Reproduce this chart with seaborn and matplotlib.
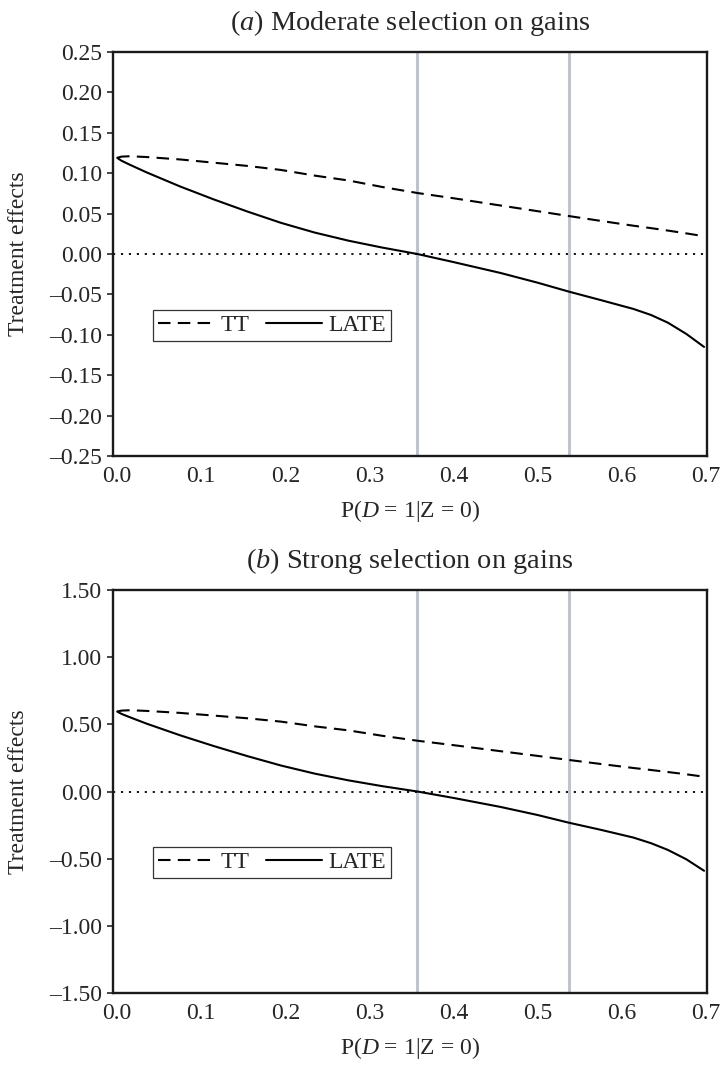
import numpy as np
import pandas as pd
import matplotlib
matplotlib.use("Agg")
import matplotlib.pyplot as plt
import seaborn as sns

# Dados
p_grid = [0.0, 0.005, 0.015, 0.035, 0.075, 0.115, 0.155, 0.195, 0.235, 0.275, 0.315,
          0.357, 0.40, 0.456, 0.50, 0.537, 0.575, 0.614, 0.635, 0.655, 0.677, 0.698]

tt_a = [0.119, 0.1205, 0.121, 0.120, 0.117, 0.113, 0.109, 0.104, 0.097, 0.091, 0.083,
        0.0755, 0.069, 0.060, 0.053, 0.047, 0.041, 0.035, 0.032, 0.029, 0.0255, 0.022]
late_a = [0.119, 0.1155, 0.1105, 0.101, 0.0835, 0.0675, 0.0525, 0.0385, 0.0265, 0.0165, 0.008,
          0.0, -0.010, -0.0235, -0.0355, -0.0465, -0.057, -0.068, -0.0755, -0.085, -0.099, -0.115]

tt_b = [0.595, 0.602, 0.605, 0.600, 0.585, 0.565, 0.545, 0.520, 0.485, 0.455, 0.415,
        0.378, 0.345, 0.300, 0.265, 0.235, 0.205, 0.175, 0.160, 0.145, 0.128, 0.110]
late_b = [0.595, 0.578, 0.553, 0.505, 0.418, 0.338, 0.263, 0.193, 0.133, 0.083, 0.040,
          0.0, -0.048, -0.115, -0.175, -0.232, -0.285, -0.343, -0.385, -0.435, -0.505, -0.590]

vlines = [0.357, 0.537]
titles = [r"($a$) Moderate selection on gains", r"($b$) Strong selection on gains"]
yticks_a = [-0.25, -0.20, -0.15, -0.10, -0.05, 0.0, 0.05, 0.10, 0.15, 0.20, 0.25]
yticks_b = [-1.5, -1.0, -0.5, 0.0, 0.5, 1.0, 1.5]
xticks = [0.0, 0.1, 0.2, 0.3, 0.4, 0.5, 0.6, 0.7]

sns.set_style("white")
plt.rcParams['font.family'] = ['Liberation Serif', 'DejaVu Serif']
plt.rcParams['mathtext.fontset'] = 'custom'
plt.rcParams['mathtext.rm'] = 'Liberation Serif'
plt.rcParams['mathtext.it'] = 'Liberation Serif:italic'
plt.rcParams['font.size'] = 17

fig = plt.figure(figsize=(7.23, 10.73), dpi=100)
ax_a = fig.add_axes([113/723, 1 - 456/1073, 594/723, 404/1073])
ax_b = fig.add_axes([113/723, 1 - 993/1073, 594/723, 403/1073])


def fmt(v):
    s = "%.2f" % abs(v)
    return ("\u2013" + s) if v < 0 else s


def painel(ax, tt, late, yticks, title):
    df = pd.DataFrame({'p': p_grid, 'TT': tt, 'LATE': late})
    for xv in vlines:
        ax.axvline(xv, color='#bfc3cc', lw=2.2, zorder=1)
    ax.axhline(0, color='black', lw=1.3, linestyle=(0, (1.2, 3.2)), zorder=2)
    sns.lineplot(data=df, x='p', y='TT', ax=ax, color='black', lw=1.5,
                 linestyle=(0, (6, 3.5)), label='TT', zorder=3)
    sns.lineplot(data=df, x='p', y='LATE', ax=ax, color='black', lw=1.5,
                 label='LATE', zorder=3)
    ax.set_xlim(-0.005, 0.7015)
    ax.set_ylim(yticks[0], yticks[-1])
    ax.set_yticks(yticks)
    ax.set_yticklabels([fmt(v) for v in yticks])
    ax.set_xticks(xticks)
    ax.set_xticklabels(["%.1f" % v for v in xticks])
    ax.tick_params(axis='y', left=True, length=4.5, width=1.2, pad=3.5, direction='out')
    ax.tick_params(axis='x', bottom=False, length=0, pad=7)
    for sp in ax.spines.values():
        sp.set_color('#1a1a1a')
        sp.set_linewidth(1.7)
    ax.set_xlabel(r"P($D$ = 1|Z = 0)", labelpad=8)
    ax.set_ylabel("Treatment effects")
    ax.yaxis.set_label_coords(-0.142, 0.5)
    ax.set_title(title, pad=16)
    leg = ax.legend(loc='lower left', bbox_to_anchor=(0.067, 0.285), ncol=2,
                    handlelength=2.4, handletextpad=0.25, columnspacing=0.7,
                    borderpad=0.2, borderaxespad=0, fancybox=False,
                    frameon=True, edgecolor='black')
    leg.get_frame().set_linewidth(0.9)


painel(ax_a, tt_a, late_a, yticks_a, titles[0])
painel(ax_b, tt_b, late_b, yticks_b, titles[1])

plt.savefig('out.png', dpi=100)
